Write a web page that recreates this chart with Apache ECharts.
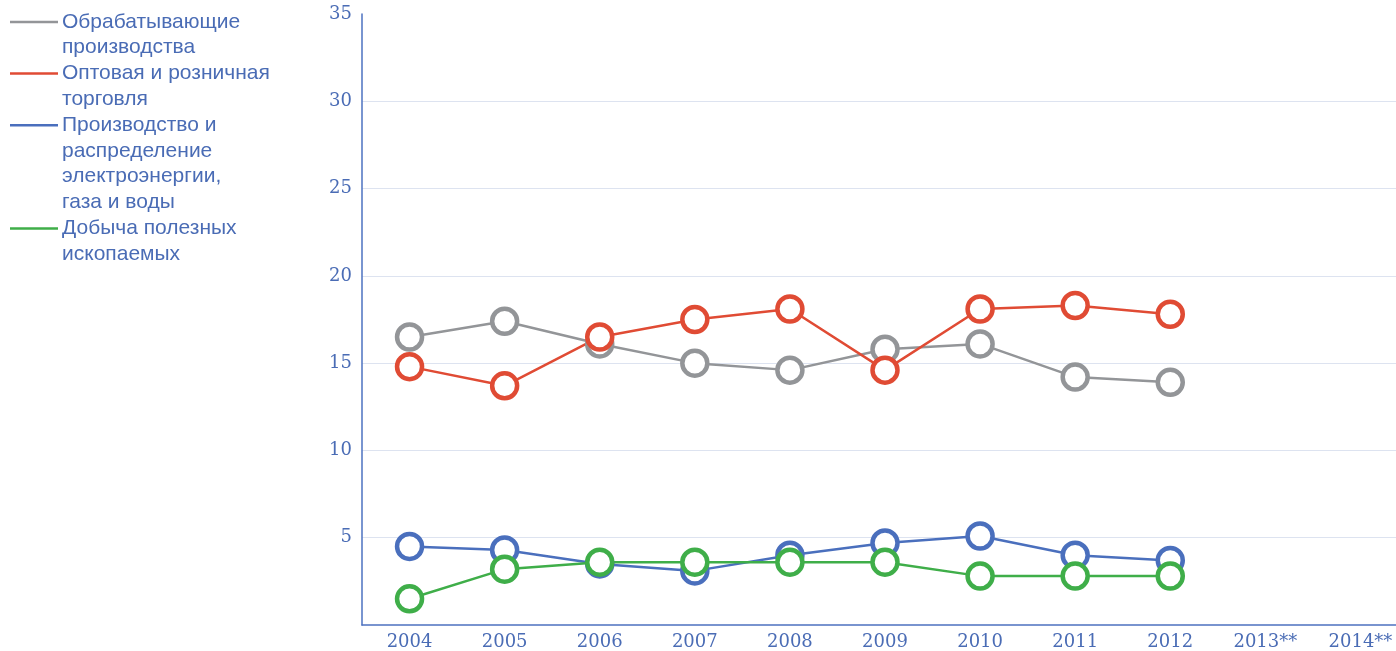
<!DOCTYPE html>
<html>
<head>
<meta charset="utf-8">
<script src="https://cdn.jsdelivr.net/npm/echarts@6/dist/echarts.min.js"></script>
<style>
    html, body { margin: 0; padding: 0; background: #fff; }
    #chart { width: 1396px; height: 651px; }
</style>
</head>
<body>
<div id="chart"></div>
<script>
    // данные
    const years = ['2004', '2005', '2006', '2007', '2008', '2009', '2010', '2011', '2012', '2013**', '2014**'];
    const manufacturing = [16.5, 17.4, 16.1, 15.0, 14.6, 15.8, 16.1, 14.2, 13.9, null, null];
    const trade = [14.8, 13.7, 16.5, 17.5, 18.1, 14.6, 18.1, 18.3, 17.8, null, null];
    const energy = [4.5, 4.3, 3.5, 3.1, 4.0, 4.7, 5.1, 4.0, 3.7, null, null];
    const mining = [1.5, 3.2, 3.6, 3.6, 3.6, 3.6, 2.8, 2.8, 2.8, null, null];
    const yTicks = [0, 35, 5];

    const names = [
        'Обрабатывающие\nпроизводства',
        'Оптовая и розничная\nторговля',
        'Производство и\nраспределение\nэлектроэнергии,\nгаза и воды',
        'Добыча полезных\nископаемых'
    ];
    const colors = ['#939598', '#e04b34', '#4a6fbd', '#3fae49'];
    const seriesData = [manufacturing, trade, energy, mining];

    const textColor = '#4a6cb5';

    // легенда слева — линии + текст
    const legendItems = [];
    let legendY = 9;
    names.forEach((name, i) => {
        const lines = name.split('\n').length;
        legendItems.push({
            type: 'line',
            shape: {x1: 10, y1: legendY + 13, x2: 58, y2: legendY + 13},
            style: {stroke: colors[i], lineWidth: 2.5}
        });
        legendItems.push({
            type: 'text',
            left: 62,
            top: legendY,
            style: {
                text: name,
                fill: textColor,
                font: '21px "Liberation Sans", Arial, sans-serif',
                lineHeight: 25.8
            }
        });
        legendY += lines * 25.8;
    });

    const option = {
        animation: false,
        grid: {left: 362, width: 1046, top: 14, bottom: 26, outerBoundsMode: 'none', containLabel: false},
        graphic: legendItems,
        xAxis: {
            type: 'category',
            data: years,
            boundaryGap: true,
            axisLine: {lineStyle: {color: '#4d72c0', width: 1.5}},
            axisTick: {show: false},
            axisLabel: {
                color: textColor,
                fontFamily: '"DejaVu Serif", Georgia, serif',
                fontSize: 18,
                margin: 8
            }
        },
        yAxis: {
            type: 'value',
            min: yTicks[0],
            max: yTicks[1],
            interval: yTicks[2],
            axisLine: {show: true, lineStyle: {color: '#4d72c0', width: 1.5}},
            axisTick: {show: false},
            axisLabel: {
                showMinLabel: false,
                color: textColor,
                fontFamily: '"DejaVu Serif", Georgia, serif',
                fontSize: 18,
                margin: 10
            },
            splitLine: {
                showMinLine: false,
                showMaxLine: false,
                lineStyle: {color: '#dde3f0', width: 1.2}
            }
        },
        series: seriesData.map((d, i) => ({
            name: names[i],
            type: 'line',
            data: d,
            symbol: 'circle',
            symbolSize: 25,
            lineStyle: {color: colors[i], width: 2.5},
            itemStyle: {color: '#fff', borderColor: colors[i], borderWidth: 4.5}
        }))
    };

    const chart = echarts.init(document.getElementById('chart'));
    chart.setOption(option);
    window.addEventListener('resize', function () {
        chart.resize();
    });
</script>
</body>
</html>
